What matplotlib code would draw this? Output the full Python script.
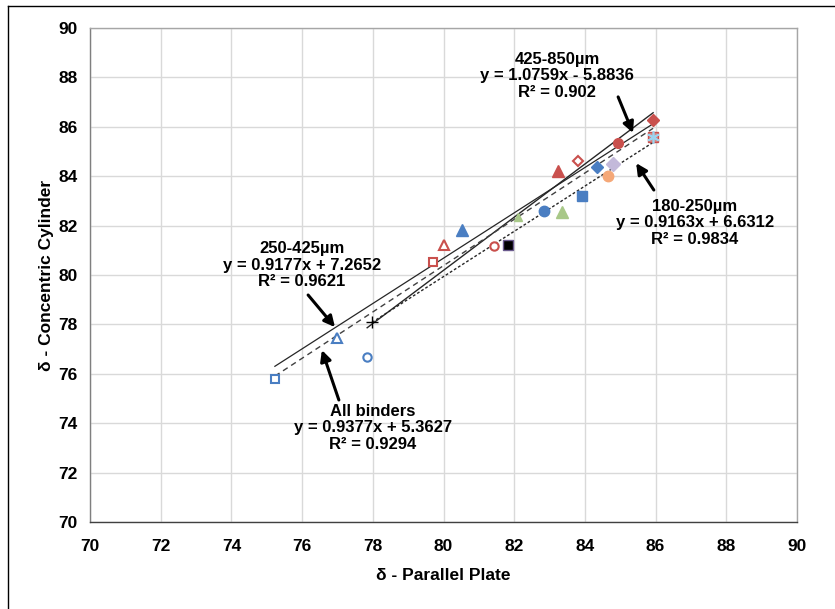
import matplotlib
matplotlib.use("Agg")
import matplotlib.pyplot as plt
from matplotlib.lines import Line2D
import numpy as np

plt.rcParams['font.family'] = ['Liberation Sans', 'DejaVu Sans']

# ---- data ----
parallel_plate = [75.23, 77.00, 77.84, 77.98, 79.70, 80.00, 80.52, 81.42, 81.82,
                  82.10, 82.84, 83.35, 83.24, 83.80, 83.92, 84.34, 84.80, 84.65,
                  84.94, 85.93, 85.93, 85.93]
concentric_cyl = [75.77, 77.45, 76.68, 78.10, 80.53, 81.21, 81.82, 81.18, 81.20,
                  82.35, 82.59, 82.55, 84.21, 84.62, 83.20, 84.37, 84.49, 84.00,
                  85.34, 86.28, 85.59, 85.59]

fit_names = ["425-850µm", "180-250µm", "250-425µm", "All binders"]
fit_slopes = [1.0759, 0.9163, 0.9177, 0.9377]
fit_intercepts = [-5.8836, 6.6312, 7.2652, 5.3627]
fit_r2 = ["0.902", "0.9834", "0.9621", "0.9294"]
fit_xmin = [77.84, 77.98, 75.23, 75.23]
fit_xmax = [85.93, 85.93, 85.93, 85.93]

x_ticks = [70, 72, 74, 76, 78, 80, 82, 84, 86, 88, 90]
y_ticks = [70, 72, 74, 76, 78, 80, 82, 84, 86, 88, 90]

# ---- styles ----
BLUE = '#4A7EC2'
RED = '#C9504D'
GREEN = '#A8C888'
ORANGE = '#F5A878'
LAV = '#C3B9DA'
point_styles = [
    dict(marker='s', mfc='white', mec=BLUE, ms=6, mew=1.5),
    dict(marker='^', mfc='white', mec=BLUE, ms=7, mew=1.5),
    dict(marker='o', mfc='white', mec=BLUE, ms=6, mew=1.5),
    dict(marker='+', mfc='black', mec='black', ms=9, mew=1.0),
    dict(marker='s', mfc='white', mec=RED, ms=6, mew=1.5),
    dict(marker='^', mfc='white', mec=RED, ms=7, mew=1.5),
    dict(marker='^', mfc=BLUE, mec=BLUE, ms=8, mew=1),
    dict(marker='o', mfc='white', mec=RED, ms=6, mew=1.5),
    dict(marker='s', mfc='black', mec='#6B5B8E', ms=7, mew=1),
    dict(marker='^', mfc=GREEN, mec=GREEN, ms=6, mew=1),
    dict(marker='o', mfc=BLUE, mec=BLUE, ms=7.5, mew=1),
    dict(marker='^', mfc=GREEN, mec=GREEN, ms=8.5, mew=1),
    dict(marker='^', mfc=RED, mec=RED, ms=8, mew=1),
    dict(marker='D', mfc='white', mec=RED, ms=5.5, mew=1.5),
    dict(marker='s', mfc=BLUE, mec=BLUE, ms=7, mew=1),
    dict(marker='D', mfc=BLUE, mec=BLUE, ms=6, mew=1),
    dict(marker='D', mfc=LAV, mec=LAV, ms=7, mew=1),
    dict(marker='o', mfc=ORANGE, mec=ORANGE, ms=7.5, mew=1),
    dict(marker='o', mfc=RED, mec=RED, ms=7, mew=1),
    dict(marker='D', mfc=RED, mec=RED, ms=6, mew=1),
    dict(marker='s', mfc='#D98A88', mec='#C9504D', ms=7, mew=1),
    dict(marker=(6, 2, 0), mfc='#9CD3EE', mec='#9CD3EE', ms=9, mew=1.2),
]
fit_styles = [
    dict(color='#262626', lw=1.0, ls='-'),
    dict(color='#262626', lw=1.0, ls=(0, (2, 1.5))),
    dict(color='#262626', lw=0.9, ls='-'),
    dict(color='#404040', lw=1.0, ls=(0, (4, 3))),
]
# label centre positions (data coords) and arrows (tail -> head)
label_pos = [(83.21, 88.06), (87.11, 82.11), (76.00, 80.40), (78.00, 73.81)]
arrow_tail = [(84.94, 87.21), (85.95, 83.44), (76.17, 79.19), (77.04, 74.94)]
arrow_head = [(85.36, 85.75), (85.45, 84.53), (76.93, 77.89), (76.56, 76.96)]

fig = plt.figure(figsize=(8.35, 6.09), dpi=100)
ax = fig.add_axes([90 / 835, 1 - 522 / 609, 707 / 835, 494 / 609])

ax.set_xlim(70, 90)
ax.set_ylim(70, 90)
ax.set_xticks(x_ticks)
ax.set_yticks(y_ticks)
ax.grid(True, color='#D9D9D9', lw=1.0)
ax.set_axisbelow(True)
ax.tick_params(length=0, labelsize=12.5)
ax.tick_params(axis='x', pad=12)
ax.tick_params(axis='y', pad=9)
for lab in ax.get_xticklabels() + ax.get_yticklabels():
    lab.set_fontweight('bold')

ax.spines['left'].set_color('#7F7F7F')
ax.spines['bottom'].set_color('#404040')
ax.spines['top'].set_color('#A6A6A6')
ax.spines['right'].set_color('#A6A6A6')
for s in ax.spines.values():
    s.set_linewidth(1.0)

# trend lines
for m, b, x0, x1, st in zip(fit_slopes, fit_intercepts, fit_xmin, fit_xmax, fit_styles):
    xs = np.array([x0, x1])
    ax.plot(xs, m * xs + b, zorder=3, **st)

# points
for x, y, st in zip(parallel_plate, concentric_cyl, point_styles):
    ax.plot([x], [y], ls='none', zorder=4, **st)

# labels + arrows
for name, m, b, r2, pos, tail, head in zip(fit_names, fit_slopes, fit_intercepts,
                                           fit_r2, label_pos, arrow_tail, arrow_head):
    sign = '+' if b >= 0 else '-'
    txt = f"{name}\ny = {m}x {sign} {abs(b)}\nR² = {r2}"
    ax.text(pos[0], pos[1], txt, ha='center', va='center', fontsize=12,
            fontweight='bold', linespacing=1.15, zorder=5)
    ax.annotate('', xy=head, xytext=tail,
                arrowprops=dict(arrowstyle='-|>', color='black', lw=2.2,
                                mutation_scale=16, shrinkA=0, shrinkB=0),
                zorder=6)

ax.set_xlabel('δ - Parallel Plate', fontsize=12.5, fontweight='bold', labelpad=10)
ax.set_ylabel('δ - Concentric Cylinder', fontsize=12.5, fontweight='bold', labelpad=3)

# outer frame (left and top edges)
fig.add_artist(Line2D([8 / 835, 8 / 835], [0, 1 - 6 / 609], color='black', lw=1.0))
fig.add_artist(Line2D([8 / 835, 1], [1 - 6 / 609, 1 - 6 / 609], color='black', lw=1.0))

fig.savefig('out.png', dpi=100)
